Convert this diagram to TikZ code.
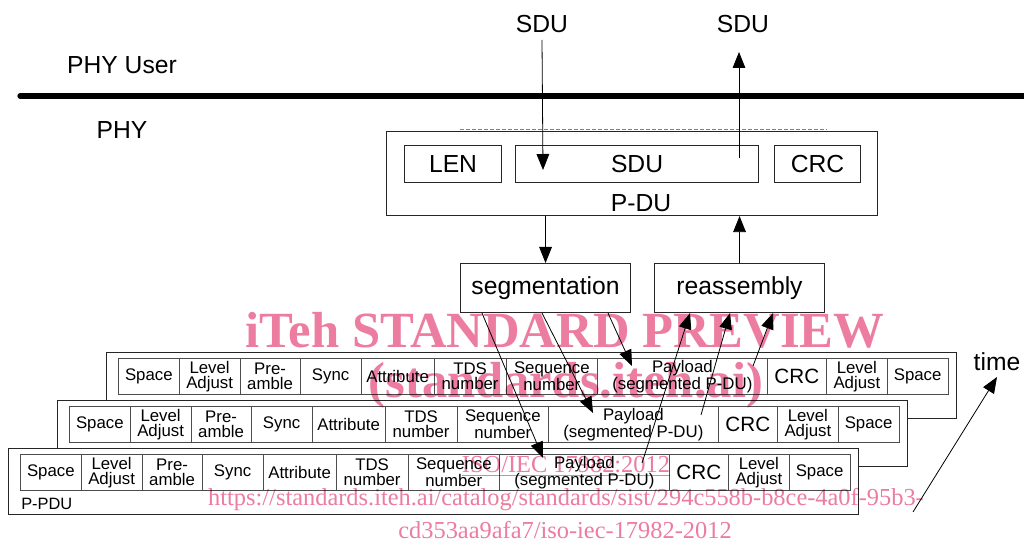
\documentclass[tikz,border=0pt]{standalone}
\usepackage{fontspec}
\setmainfont{Liberation Sans}
\newfontfamily\wmfont{Liberation Serif}
\usetikzlibrary{arrows.meta,calc}

\definecolor{wmpink}{RGB}{236,124,160}

\tikzset{
  big/.style={font=\fontsize{18.5}{22}\selectfont, inner sep=0pt},
  small/.style={font=\fontsize{12.6}{11.4}\selectfont, align=center},
  crcbig/.style={font=\fontsize{15.5}{18}\selectfont},
  boxline/.style={draw=black!85, line width=0.8pt},
  framebox/.style={boxline, fill=white, minimum width=637.5pt, minimum height=49.5pt, inner sep=0pt},
  cell/.style={draw=black!70, line width=0.9pt, inner sep=0pt, minimum height=27pt},
  arr/.style={-{Triangle[length=12pt,width=9.5pt]}, line width=0.6pt},
  wm/.style={text=wmpink, inner sep=0pt},
}

% one cell of a P-PDU row: name, left x, right x, text, extra style
\newcommand\pducell[5]{%
  \node[cell,#5,minimum width={(#3-#2)*0.75pt},anchor=north west] (#1) at (#2,6) {#4};}

% a complete P-PDU frame: name prefix, x, y of its top left corner
\newcommand\pduframe[3]{%
  \begin{scope}[shift={(#2,#3)}]
    \node[framebox,anchor=north west] (#1) at (0,0) {};
    \node[font=\fontsize{12.3}{14}\selectfont, inner sep=0pt, anchor=west] (#1lbl) at (13,55.5) {P-PDU};
    \pducell{#1spa}{12}{72.5}{Space}{small}
    \pducell{#1lev}{72.5}{133.5}{Level\\Adjust}{small}
    \pducell{#1pre}{133.5}{193.5}{Pre-\\amble}{small}
    \pducell{#1syn}{193.5}{254.5}{Sync}{small}
    \pducell{#1att}{254.5}{327.5}{Attribute}{small}
    \pducell{#1tds}{327.5}{399.5}{TDS\\number}{small}
    \pducell{#1seq}{399.5}{491}{Sequence\\number}{small}
    \pducell{#1pay}{491}{660.5}{Payload\\(segmented P-DU)}{small}
    \pducell{#1crc}{660.5}{720}{CRC}{crcbig}
    \pducell{#1lvb}{720}{780.5}{Level\\Adjust}{small}
    \pducell{#1spb}{780.5}{841.5}{Space}{small}
  \end{scope}}

\begin{document}
\begin{tikzpicture}[x=0.75pt,y=-0.75pt]
  \useasboundingbox (0,0) rectangle (1024,545);
  \fill[white] (0,0) rectangle (1024,545);

  % layer boundary
  \draw[line width=4pt, line cap=round] (20,96) -- (1030,96);
  \node[big] (user) at (122,65) {PHY User};
  \node[big] (phy) at (122,130) {PHY};

  % service data units at the top
  \node[big] (sduin) at (542,24) {SDU};
  \node[big] (sduout) at (743,24) {SDU};

  % P-DU with its fields
  \draw[gray, dash pattern=on 3pt off 1.5pt, line width=0.7pt] (460,129.5) -- (827,129.5);
  \node[boxline, minimum width=368.25pt, minimum height=63pt, inner sep=0pt, anchor=north west] (pdu) at (386,131) {};
  \node[boxline, big, minimum width=72.75pt, minimum height=27.75pt, anchor=north west] (len) at (404,145) {LEN};
  \node[boxline, big, minimum width=182.25pt, minimum height=27.75pt, anchor=north west] (sdu) at (515,145) {SDU};
  \node[boxline, big, minimum width=64.5pt, minimum height=27.75pt, anchor=north west] (crc) at (774,145) {CRC};
  \node[big] (pdulbl) at (641,203) {P-DU};

  % processing steps
  \node[boxline, big, minimum width=127.5pt, minimum height=36.75pt, anchor=north west] (seg) at (460,263) {segmentation};
  \node[boxline, big, minimum width=127.5pt, minimum height=36.75pt, anchor=north west] (reas) at (654,263) {reassembly};

  % P-PDU frames, back to front
  \pduframe{fa}{106}{352}
  \pduframe{fb}{57}{400}
  \pduframe{fc}{8}{448}

  % SDU in and out
  \coordinate (outtip) at (739,52);
  \draw[arr] (sduin.south |- 0,40) -- ($(sdu.north west)+(28,25)$);
  \draw[arr] ($(sdu.north west)+(224,13)$) -- (outtip);

  % P-DU to and from the processing steps
  \draw[arr] (seg.north |- pdu.south) -- (seg.north);
  \draw[arr] (reas.north) -- (reas.north |- pdu.south);

  % segmentation into payloads
  \draw[arr] ($(seg.south west)+(22,0)$) -- ($(fcpay.north west)+(44,4)$);
  \draw[arr] ($(seg.south west)+(82,0)$) -- ($(fbpay.north west)+(45,7)$);
  \draw[arr] ($(seg.south west)+(148,0)$) -- ($(fapay.north west)+(35,8)$);

  % payloads reassembled
  \draw[arr] ($(fcpay.north west)+(143,9)$) -- ($(reas.south west)+(36,0)$);
  \draw[arr] ($(fbpay.north west)+(153,9)$) -- ($(reas.south west)+(76,0)$);
  \draw[arr] ($(fapay.north west)+(156,8)$) -- ($(reas.south west)+(119,0)$);

  % time axis
  \node[big] (time) at (997,362) {time};
  \coordinate (tstart) at (913,512);
  \coordinate (ttip) at (997,377);
  \draw[arr] (tstart) -- (ttip);

  % overprinted marks
  \begin{scope}[blend mode=multiply]
    \node[wm, font=\wmfont\bfseries\fontsize{38}{40}\selectfont] (wma) at (565,330) {iTeh STANDARD PREVIEW};
    \node[wm, font=\wmfont\bfseries\fontsize{38}{40}\selectfont] (wmb) at (566,385) {(standards.iteh.ai)};
    \node[wm, font=\wmfont\fontsize{18.3}{20}\selectfont] (wmc) at (566,466) {\underline{ISO/IEC 17982:2012}};
    \node[wm, font=\wmfont\fontsize{18.3}{20}\selectfont] (wmd) at (566,500) {https://standards.iteh.ai/catalog/standards/sist/294c558b-b8ce-4a0f-95b3-};
    \node[wm, font=\wmfont\fontsize{18.3}{20}\selectfont] (wme) at (565,530) {cd353aa9afa7/iso-iec-17982-2012};
  \end{scope}
\end{tikzpicture}
\end{document}
